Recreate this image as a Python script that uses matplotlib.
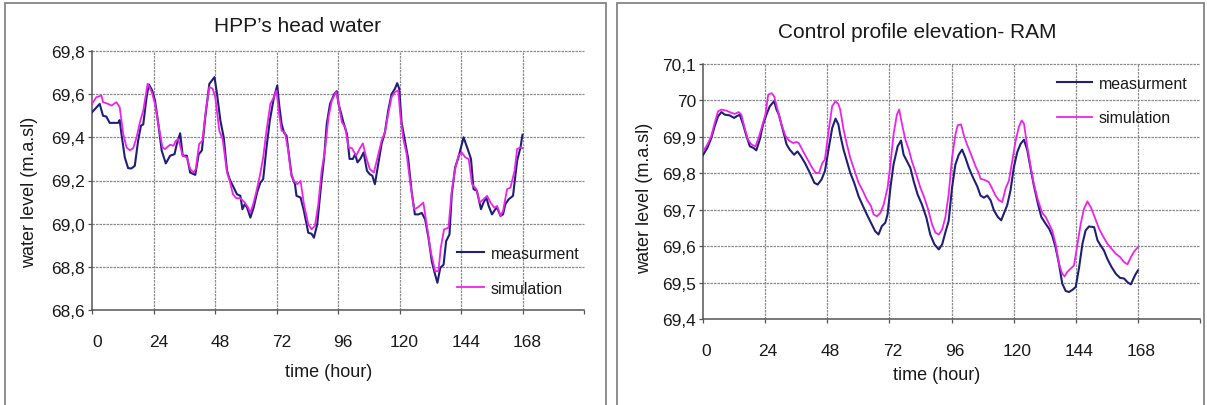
import matplotlib
matplotlib.use('Agg')
import matplotlib.pyplot as plt
from matplotlib.patches import Rectangle
from matplotlib.transforms import ScaledTranslation

plt.rcParams['font.family'] = ['Liberation Sans', 'DejaVu Sans']

# ---------------- data ----------------
x_ticks = [0, 24, 48, 72, 96, 120, 144, 168, 192]
x_tick_labels = ['0', '24', '48', '72', '96', '120', '144', '168', '']

left_title = "HPP\u2019s head water"
left_yticks = [68.6, 68.8, 69.0, 69.2, 69.4, 69.6, 69.8]
left_ytick_labels = ['68,6', '68,8', '69,0', '69,2', '69,4', '69,6', '69,8']

right_title = "Control profile elevation- RAM"
right_yticks = [69.4, 69.5, 69.6, 69.7, 69.8, 69.9, 70.0, 70.1]
right_ytick_labels = ['69,4', '69,5', '69,6', '69,7', '69,8', '69,9', '70', '70,1']

series_names = ['measurment', 'simulation']

L_meas_h = [0, 3.0, 4.3, 5.6, 6.9, 10.2, 10.8, 11.5, 12.8, 14.1, 15.4, 16.7, 18.0, 19.1, 20.0, 21.3, 22.2, 23.5,
            24.6, 25.9, 27.2, 28.8, 30.5, 32.2, 33.1, 34.4, 35.4, 37.0, 38.3, 40.3, 41.6, 42.9, 44.2, 45.8, 47.8,
            48.8, 50.1, 51.4, 52.7,
            53.7, 55.0, 56.6, 57.9, 58.7, 59.6, 60.5, 61.8, 63.1, 64.4, 65.7, 66.8, 68.1, 69.4, 71.0, 72.3, 73.0,
            74.0, 74.9, 75.9, 77.0, 77.9, 79.2, 79.8, 81.4, 82.7, 84.4, 85.7, 86.6, 87.9, 89.3, 90.6, 91.6, 92.9,
            94.5, 95.5, 96.2, 97.1, 98.1, 99.5, 100.5, 101.8, 102.7, 103.6, 104.7, 106.0, 107.3,
            108.4, 109.4, 110.4, 111.7, 113.0, 114.3, 115.6, 116.9, 118.2, 119.1, 119.9, 120.8, 122.1, 123.4,
            124.7, 126.0, 127.4, 128.7, 130.0, 131.3, 132.6, 133.9, 134.8, 135.9, 137.2, 138.2, 139.5, 140.4,
            141.7, 143.0, 145.0, 146.6, 147.9, 148.9, 150.2, 151.8, 152.8, 153.9, 154.8, 156.1, 157.4, 158.1,
            159.4, 160.4, 161.3, 162.6, 164.3, 165.9, 167.2, 168.0]
L_meas_v = [69.516, 69.555, 69.50, 69.496, 69.467, 69.467, 69.48, 69.415, 69.307, 69.257, 69.256, 69.268, 69.385,
            69.454, 69.46, 69.586, 69.645, 69.617, 69.57, 69.46, 69.338, 69.279, 69.315, 69.322, 69.369, 69.419,
            69.315, 69.315, 69.237, 69.226, 69.32, 69.34, 69.493, 69.648, 69.679, 69.60, 69.478, 69.40, 69.245,
            69.206, 69.175, 69.136, 69.129, 69.067, 69.09, 69.075, 69.028, 69.075, 69.144, 69.19, 69.206, 69.353,
            69.478, 69.586, 69.64, 69.555, 69.462, 69.423, 69.408, 69.307, 69.222, 69.183, 69.129, 69.121, 69.059,
            68.958, 68.953, 68.935, 68.997, 69.167, 69.307, 69.462, 69.555, 69.60, 69.614, 69.555, 69.516, 69.47,
            69.415, 69.30, 69.30, 69.322, 69.284, 69.30, 69.33, 69.245,
            69.229, 69.222, 69.183, 69.276, 69.369, 69.423, 69.524, 69.60, 69.625, 69.651, 69.625, 69.47, 69.384,
            69.30, 69.152, 69.043, 69.043, 69.05, 69.02, 68.935, 68.826, 68.764, 68.726, 68.795, 68.81, 68.919,
            68.95, 69.136, 69.26, 69.307, 69.40, 69.346, 69.30, 69.16, 69.152, 69.067, 69.098, 69.121, 69.082,
            69.043, 69.067, 69.074, 69.036, 69.043, 69.09, 69.113, 69.129, 69.291, 69.353, 69.412]

L_sim_h = [0, 1.7, 3.7, 4.3, 6.3, 7.6, 9.5, 10.8, 12.2, 13.5, 14.8, 16.1, 17.4, 18.7, 20.0, 21.7, 23.3, 24.6, 26.1,
           27.5, 28.5, 30.5, 31.8, 32.7, 33.7, 35.4, 37.0, 38.3, 39.6, 40.5, 41.8, 43.1, 44.4, 45.8, 47.1, 48.1,
           49.7, 51.0, 52.7,
           53.7, 55.0, 56.3, 57.9, 59.6, 60.9, 61.8, 62.9, 64.2, 65.5, 66.8, 68.1, 69.6, 71.0, 72.0, 73.0, 74.0,
           75.3, 76.6, 77.6, 78.8, 80.1, 81.4, 82.7, 84.4, 85.7, 87.0, 88.3, 89.6, 90.9, 92.3, 93.6, 95.3, 96.2,
           97.5, 98.8, 100.1, 101.4, 103.1, 104.4, 105.7, 107.0,
           108.4, 110.0, 111.3, 113.0, 114.3, 115.6, 116.9, 118.2, 119.5, 120.4, 121.5, 122.8, 124.1, 125.7,
           127.0, 128.3, 129.3, 130.6, 132.2, 133.9, 135.2, 136.1, 137.4, 139.1, 140.4, 141.7, 143.0, 144.3,
           145.7, 147.0, 148.3, 150.0, 151.3, 152.8, 154.2, 155.5, 157.0, 158.1, 159.4, 160.4, 162.0, 163.3,
           164.9, 165.9, 167.2, 168.0]
L_sim_v = [69.555, 69.586, 69.594, 69.563, 69.555, 69.547, 69.563, 69.54, 69.415, 69.353, 69.34, 69.35, 69.40,
           69.47, 69.524, 69.648, 69.61, 69.555, 69.447, 69.353, 69.346, 69.366, 69.361, 69.384, 69.392, 69.315,
           69.307, 69.253, 69.237, 69.253, 69.369, 69.384, 69.524, 69.633, 69.625, 69.586, 69.43, 69.39, 69.237,
           69.2, 69.136, 69.118, 69.118, 69.098, 69.075, 69.05, 69.09, 69.152, 69.222, 69.307, 69.431, 69.555,
           69.586, 69.617, 69.509, 69.431, 69.423, 69.338, 69.237, 69.198, 69.183, 69.198, 69.09, 68.997, 68.974,
           68.99, 69.09, 69.245, 69.338, 69.493, 69.571, 69.61, 69.563, 69.47, 69.447, 69.353, 69.35, 69.315,
           69.346, 69.372, 69.307,
           69.253, 69.237, 69.30, 69.384, 69.423, 69.509, 69.586, 69.61, 69.617, 69.493, 69.392, 69.322, 69.198,
           69.067, 69.074, 69.087, 69.098, 68.997, 68.87, 68.78, 68.78, 68.888, 68.974, 68.981, 69.152, 69.253,
           69.315, 69.33, 69.307, 69.30, 69.183, 69.16, 69.098, 69.113, 69.129, 69.098, 69.074, 69.082, 69.036,
           69.059, 69.16, 69.167, 69.245, 69.346, 69.353, 69.35]

R_meas_h = [0, 1.7, 3.2, 4.5, 5.8, 7.1, 8.4, 10.3, 12.0, 12.9, 14.2, 15.5, 16.8, 18.1, 19.4, 20.6, 21.9, 23.2, 24.5,
            25.8, 27.5, 28.4, 29.3, 31.0, 32.3, 33.5, 35.2, 36.5, 37.8, 39.4, 41.3, 43.0, 44.3, 45.8, 47.1, 48.6,
            49.9, 51.2, 52.3,
            53.0, 54.3, 55.6, 56.9, 58.4, 60.1, 61.8, 63.3, 64.9, 66.5, 67.8, 69.1, 70.4, 71.3, 72.4, 73.6, 75.2,
            76.5, 77.5, 78.8, 80.1, 81.4, 82.9, 84.6, 86.3, 87.8, 89.4, 91.1, 92.4, 93.6, 94.9, 96.2, 97.5, 98.8,
            100.1, 101.4, 102.7, 104.4, 105.9,
            107.2, 108.5, 109.8, 111.1, 112.4, 113.9, 115.2, 116.2, 117.5, 118.8, 120.1, 121.4, 122.7, 124.0,
            125.3, 126.6, 127.8, 129.4, 130.7, 132.4, 133.7, 134.9, 136.2, 137.5, 138.8, 140.1, 141.4, 142.7,
            144.0, 145.3, 146.6, 147.8, 149.1, 151.1, 152.4, 153.6, 154.9, 156.2, 157.8, 159.5, 161.1, 162.7,
            164.0, 165.3, 166.3, 167.2, 168.0]
R_meas_v = [69.85, 69.87, 69.897, 69.929, 69.956, 69.968, 69.961, 69.959, 69.952, 69.956, 69.961, 69.934, 69.902,
            69.874, 69.87, 69.863, 69.892, 69.934, 69.961, 69.984, 69.998, 69.975, 69.961, 69.915, 69.879, 69.865,
            69.851, 69.86, 69.847, 69.828, 69.801, 69.774, 69.769, 69.783, 69.806, 69.87, 69.924, 69.95, 69.934,
            69.906, 69.865, 69.833, 69.801, 69.774, 69.737, 69.71, 69.687, 69.664, 69.641, 69.632, 69.655, 69.664,
            69.687, 69.76, 69.824, 69.874, 69.89, 69.851, 69.833, 69.815, 69.778, 69.742, 69.714, 69.678, 69.632,
            69.605, 69.591, 69.605, 69.637, 69.669, 69.76, 69.824, 69.851, 69.865, 69.842, 69.815, 69.787, 69.765,
            69.739, 69.733, 69.739, 69.726, 69.698, 69.68, 69.671, 69.689, 69.712, 69.753, 69.817, 69.858, 69.881,
            69.892, 69.863, 69.812, 69.767, 69.716, 69.68, 69.661, 69.648, 69.629, 69.597, 69.552, 69.497, 69.477,
            69.474, 69.48, 69.488, 69.542, 69.607, 69.643, 69.654, 69.652, 69.616, 69.602, 69.588, 69.565, 69.543,
            69.524, 69.513, 69.511, 69.501, 69.495, 69.511, 69.524, 69.533]

R_sim_h = [0, 1.7, 3.2, 4.5, 5.8, 7.1, 9.0, 11.0, 12.3, 13.8, 14.8, 16.1, 17.4, 18.7, 20.3, 21.5, 22.8, 24.1, 25.2,
           26.5, 27.5, 28.8, 30.3, 31.9, 33.2, 34.8, 36.1, 37.0, 38.7, 40.4, 42.2, 43.5, 44.8, 46.1, 47.1, 48.6,
           49.9, 51.2, 52.3,
           53.0, 54.3, 55.6, 56.9, 58.4, 60.1, 61.8, 63.3, 64.9, 65.9, 67.2, 68.5, 69.8, 71.3, 72.4, 73.6, 74.9,
           75.8, 76.9, 78.2, 79.5, 80.7, 82.4, 84.0, 85.3, 86.8, 88.5, 89.8, 91.1, 92.4, 93.6, 94.9, 96.2, 97.5,
           98.4, 99.7, 100.7, 102.0, 103.6, 105.3, 106.5,
           107.2, 108.7, 110.4, 111.7, 113.0, 114.3, 115.6, 116.9, 118.2, 119.5, 120.7, 122.0, 123.1, 124.0,
           125.3, 126.6, 127.8, 129.4, 131.1, 132.4, 133.7, 134.9, 136.2, 137.5, 138.8, 139.7, 140.7, 142.0,
           143.3, 144.6, 145.9, 147.2, 148.5, 149.8, 151.3, 153.0, 154.7, 156.2, 157.8, 159.5, 161.1, 162.7,
           164.0, 165.3, 166.6, 168.0]
R_sim_v = [69.86, 69.879, 69.902, 69.938, 69.97, 69.975, 69.972, 69.966, 69.963, 69.968, 69.961, 69.924, 69.892,
           69.879, 69.874, 69.897, 69.929, 69.961, 70.016, 70.02, 70.011, 69.975, 69.934, 69.902, 69.89, 69.883,
           69.886, 69.883, 69.86, 69.838, 69.815, 69.801, 69.801, 69.828, 69.838, 69.92, 69.984, 69.998, 69.99,
           69.975, 69.92, 69.879, 69.842, 69.81, 69.774, 69.751, 69.728, 69.71, 69.687, 69.682, 69.691, 69.714,
           69.76, 69.824, 69.906, 69.961, 69.975, 69.934, 69.892, 69.865, 69.833, 69.797, 69.76, 69.737, 69.705,
           69.659, 69.637, 69.632, 69.646, 69.678, 69.742, 69.842, 69.906, 69.932, 69.934, 69.906, 69.879, 69.851,
           69.819, 69.801,
           69.785, 69.782, 69.776, 69.758, 69.739, 69.726, 69.721, 69.758, 69.78, 69.835, 69.886, 69.927, 69.945,
           69.936, 69.872, 69.817, 69.771, 69.726, 69.691, 69.68, 69.661, 69.643, 69.607, 69.552, 69.524, 69.517,
           69.529, 69.538, 69.547, 69.602, 69.661, 69.703, 69.723, 69.707, 69.68, 69.648, 69.625, 69.607, 69.593,
           69.579, 69.57, 69.556, 69.55, 69.57, 69.586, 69.597]

# ---------------- layout / style ----------------
W, H = 1207, 406
fig = plt.figure(figsize=(W / 100, H / 100), dpi=100)
fig.patch.set_facecolor('white')


def fx(px):
    return px / W


def fy(py):
    return 1 - py / H


MEAS_COLOR = '#1f1f78'
SIM_COLOR = '#ee22ee'
TXT = '#1a1a1a'
AX_COLOR = '#555555'

# panel frames
for x0, x1 in [(5, 606), (617, 1204)]:
    fig.patches.append(Rectangle((fx(x0), fy(H + 6)), fx(x1) - fx(x0), fy(4) - fy(H + 6),
                                 transform=fig.transFigure, fill=False, ec='#858585', lw=1.3))

axL = fig.add_axes([fx(92), fy(311), fx(584) - fx(92), fy(52) - fy(311)])
axR = fig.add_axes([fx(703), fy(320), fx(1200) - fx(703), fy(65) - fy(320)])


def style(ax, yticks, ylabels, xshift_px):
    ax.set_xlim(x_ticks[0], x_ticks[-1])
    ax.set_ylim(yticks[0], yticks[-1])
    ax.set_xticks(x_ticks)
    ax.set_xticklabels(x_tick_labels)
    ax.set_yticks(yticks)
    ax.set_yticklabels(ylabels)
    for s in ['top', 'right']:
        ax.spines[s].set_visible(False)
    for s in ['left', 'bottom']:
        ax.spines[s].set_color(AX_COLOR)
        ax.spines[s].set_linewidth(1.1)
    ax.tick_params(direction='out', length=3, width=0.9, color=AX_COLOR,
                   labelsize=12.5, labelcolor=TXT)
    ax.tick_params(axis='x', pad=14)
    ax.tick_params(axis='y', pad=2)
    ax.grid(True, color='#8c8c8c', lw=0.9, ls=(0, (2, 0.8)))
    ax.set_axisbelow(True)
    xg = ax.get_xgridlines()
    xg[0].set_visible(False)
    xg[-1].set_visible(False)
    yg = ax.get_ygridlines()
    yg[0].set_visible(False)
    for g in yg:
        g.set_clip_on(False)
    off = ScaledTranslation(xshift_px / 100, 0, fig.dpi_scale_trans)
    for lab in ax.get_xticklabels():
        lab.set_transform(lab.get_transform() + off)


style(axL, left_yticks, left_ytick_labels, 5)
style(axR, right_yticks, right_ytick_labels, 3)

lm, = axL.plot(L_meas_h, L_meas_v, color=MEAS_COLOR, lw=1.5, zorder=3)
ls_, = axL.plot(L_sim_h, L_sim_v, color=SIM_COLOR, lw=1.3, zorder=3)
rm, = axR.plot(R_meas_h, R_meas_v, color=MEAS_COLOR, lw=1.5, zorder=3)
rs, = axR.plot(R_sim_h, R_sim_v, color=SIM_COLOR, lw=1.3, zorder=3)

axL.legend([lm, ls_], series_names, loc='upper left', bbox_to_anchor=(fx(457), fy(247)),
           bbox_transform=fig.transFigure, frameon=False, fontsize=11.5, handlelength=1.7,
           handletextpad=0.4, labelspacing=1.25, borderpad=0, borderaxespad=0, labelcolor=TXT)
axR.legend([rm, rs], series_names, loc='upper left', bbox_to_anchor=(fx(1057), fy(77)),
           bbox_transform=fig.transFigure, frameon=False, fontsize=11.5, handlelength=2.2,
           handletextpad=0.4, labelspacing=1.2, borderpad=0, borderaxespad=0, labelcolor=TXT)

# titles and axis labels
fig.text(fx(298), fy(27), left_title, ha='center', va='center', fontsize=15, color=TXT)
fig.text(fx(917), fy(32), right_title, ha='center', va='center', fontsize=15, color=TXT)
fig.text(fx(329), fy(373), 'time (hour)', ha='center', va='center', fontsize=13, color=TXT)
fig.text(fx(937), fy(376), 'time (hour)', ha='center', va='center', fontsize=13, color=TXT)
fig.text(fx(30), fy(192), 'water level (m.a.sl)', rotation=90, ha='center', va='center',
         fontsize=13, color=TXT)
fig.text(fx(645), fy(198), 'water level (m.a.sl)', rotation=90, ha='center', va='center',
         fontsize=13, color=TXT)

fig.savefig('out.png', dpi=100)
